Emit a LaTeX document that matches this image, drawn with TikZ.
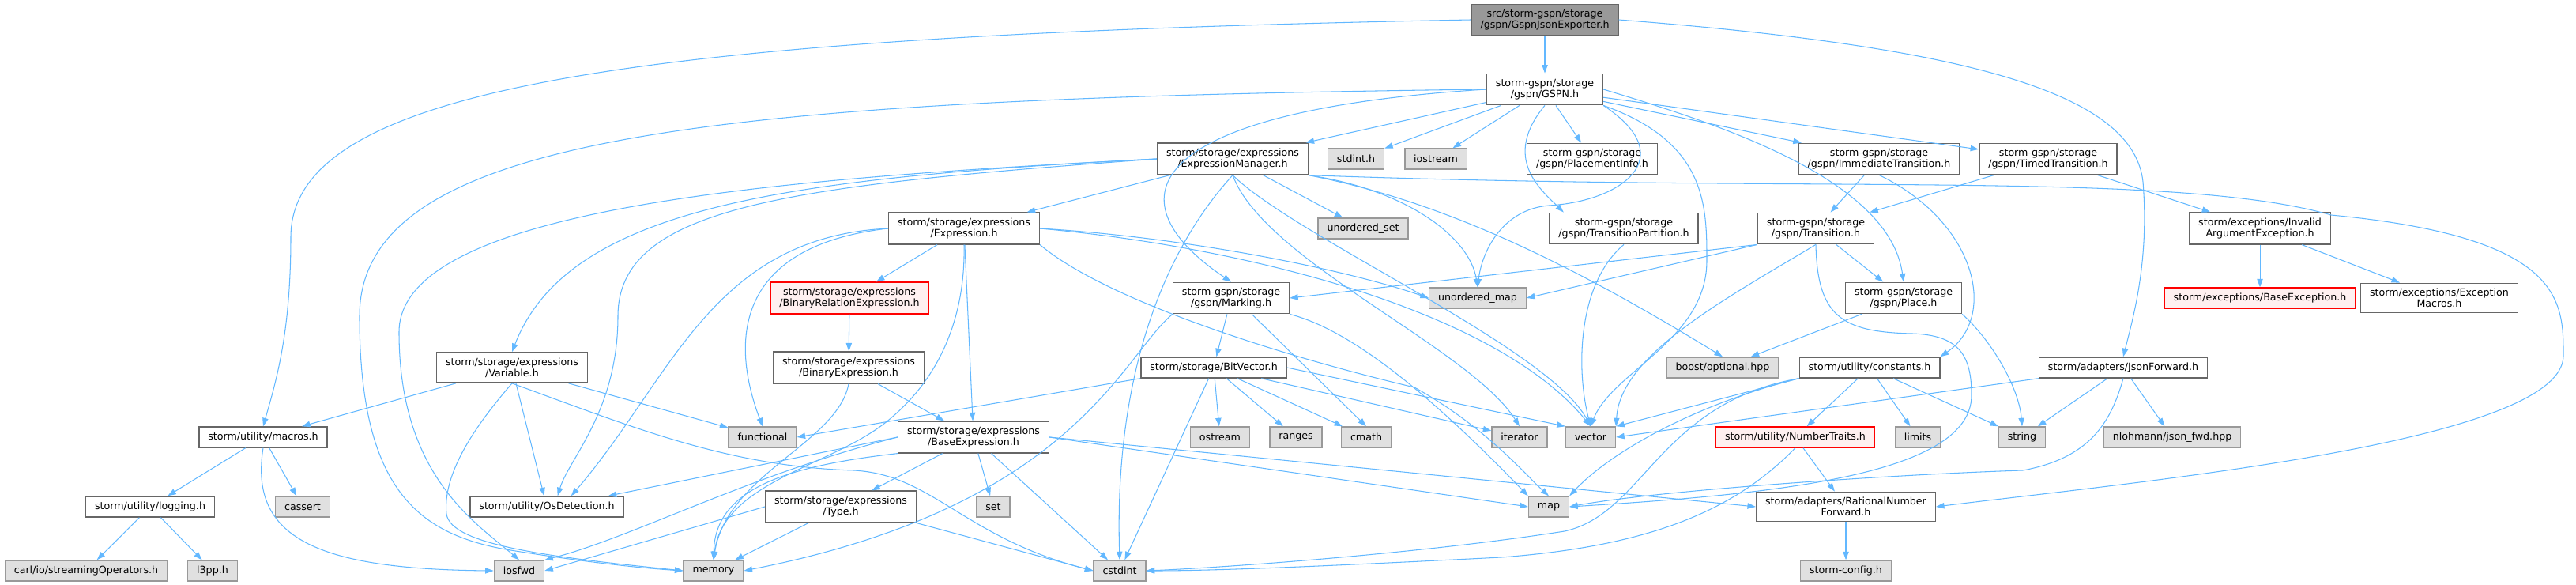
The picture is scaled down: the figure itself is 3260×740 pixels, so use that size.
\documentclass[tikz,border=0pt]{standalone}
\usepackage{fontspec}
\setmainfont{DejaVu Sans}
\usepackage{xcolor}
\usetikzlibrary{arrows.meta}
\definecolor{incblue}{HTML}{63B8FF}
\definecolor{incdraw}{HTML}{666666}
\definecolor{sysdraw}{HTML}{999999}
\definecolor{sysfill}{HTML}{E0E0E0}
\definecolor{curfill}{HTML}{999999}
\definecolor{badfill}{HTML}{FFF0F0}

\begin{document}
\begin{tikzpicture}[
    x=0.02cm, y=-0.02cm,
    inc/.style={draw=incdraw, line width=0.8pt, fill=white, align=center, inner xsep=6.5pt, inner ysep=3.8pt, minimum height=0.52cm, font=\fontsize{7.2}{8.1}\selectfont},
    sysinc/.style={inc, draw=sysdraw, fill=sysfill},
    curinc/.style={inc, fill=curfill},
    badinc/.style={inc, draw=red, fill=badfill},
    incline/.style={-{Triangle[length=6pt, width=4.2pt]}, line width=0.6pt, draw=incblue}
  ]
    \useasboundingbox (0,0) rectangle (3260,740);

    \node[curinc] (exporter) at (1955,25) {src/storm-gspn/storage\\/gspn/GspnJsonExporter.h};
    \node[inc] (gspn) at (1955,113) {storm-gspn/storage\\/gspn/GSPN.h};
    \node[inc] (exprmgr) at (1560,201) {storm/storage/expressions\\/ExpressionManager.h};
    \node[sysinc] (stdint) at (1716,201) {stdint.h};
    \node[sysinc] (iostream) at (1817,201) {iostream};
    \node[inc] (placement) at (2015,201) {storm-gspn/storage\\/gspn/PlacementInfo.h};
    \node[inc] (immtrans) at (2378,201) {storm-gspn/storage\\/gspn/ImmediateTransition.h};
    \node[inc] (timedtrans) at (2592,201) {storm-gspn/storage\\/gspn/TimedTransition.h};
    \node[inc] (expression) at (1220,289) {storm/storage/expressions\\/Expression.h};
    \node[sysinc] (unordset) at (1725,289) {unordered\_set};
    \node[inc] (transpart) at (2055,289) {storm-gspn/storage\\/gspn/TransitionPartition.h};
    \node[inc] (transition) at (2298,289) {storm-gspn/storage\\/gspn/Transition.h};
    \node[inc] (invalidarg) at (2860,289) {storm/exceptions/Invalid\\ArgumentException.h};
    \node[badinc] (binrel) at (1075,377) {storm/storage/expressions\\/BinaryRelationExpression.h};
    \node[inc] (marking) at (1558,377) {storm-gspn/storage\\/gspn/Marking.h};
    \node[sysinc] (unordmap) at (1870,377) {unordered\_map};
    \node[inc] (place) at (2409,377) {storm-gspn/storage\\/gspn/Place.h};
    \node[badinc] (baseexc) at (2860,377) {storm/exceptions/BaseException.h};
    \node[inc] (excmacros) at (3087,377) {storm/exceptions/Exception\\Macros.h};
    \node[inc] (variable) at (648,465) {storm/storage/expressions\\/Variable.h};
    \node[inc] (binexpr) at (1074,465) {storm/storage/expressions\\/BinaryExpression.h};
    \node[inc] (bitvector) at (1536,465) {storm/storage/BitVector.h};
    \node[sysinc] (optional) at (2180,465) {boost/optional.hpp};
    \node[inc] (constants) at (2366,465) {storm/utility/constants.h};
    \node[inc] (jsonfwd) at (2687,465) {storm/adapters/JsonForward.h};
    \node[inc] (macros) at (333,553) {storm/utility/macros.h};
    \node[sysinc] (functional) at (965,553) {functional};
    \node[inc] (baseexpr) at (1232,553) {storm/storage/expressions\\/BaseExpression.h};
    \node[sysinc] (ostream) at (1544,553) {ostream};
    \node[sysinc] (ranges) at (1640,553) {ranges};
    \node[sysinc] (cmath) at (1729,553) {cmath};
    \node[sysinc] (iterator) at (1923,553) {iterator};
    \node[sysinc] (vector) at (2013,553) {vector};
    \node[badinc] (numtraits) at (2272,553) {storm/utility/NumberTraits.h};
    \node[sysinc] (limits) at (2427,553) {limits};
    \node[sysinc] (string) at (2559,553) {string};
    \node[sysinc] (jsonfwdhpp) at (2749,553) {nlohmann/json\_fwd.hpp};
    \node[inc] (logging) at (190,641) {storm/utility/logging.h};
    \node[sysinc] (cassert) at (383,641) {cassert};
    \node[inc] (osdetect) at (692,641) {storm/utility/OsDetection.h};
    \node[inc] (typeh) at (1064,641) {storm/storage/expressions\\/Type.h};
    \node[sysinc] (set) at (1257,641) {set};
    \node[sysinc] (map) at (1960,641) {map};
    \node[inc] (rational) at (2336,641) {storm/adapters/RationalNumber\\Forward.h};
    \node[sysinc] (streamops) at (109,722) {carl/io/streamingOperators.h};
    \node[sysinc] (l3pp) at (269,722) {l3pp.h};
    \node[sysinc] (iosfwd) at (657,722) {iosfwd};
    \node[sysinc] (memory) at (903,722) {memory};
    \node[sysinc] (cstdint) at (1417,722) {cstdint};
    \node[sysinc] (stormconfig) at (2336,722) {storm-config.h};

    \draw[incline] (exporter) -- (gspn);
    \draw[incline] (exporter.west) .. controls (800,45) and (368,110) .. (368,300) .. controls (368,420) and (350,480) .. (macros.north);
    \draw[incline] (exporter.east) .. controls (2500,60) and (2700,120) .. (2712,230) .. controls (2720,330) and (2700,400) .. (jsonfwd.north);

    \draw[incline] (gspn) -- (exprmgr);
    \draw[incline] (gspn) -- (stdint);
    \draw[incline] (gspn) -- (iostream);
    \draw[incline] (gspn) -- (placement);
    \draw[incline] (gspn) -- (immtrans);
    \draw[incline] (gspn) -- (timedtrans);
    \draw[incline] (gspn.south) .. controls (1900,200) and (1950,240) .. (transpart.165);
    \draw[incline] (gspn.west) .. controls (1450,140) and (1400,250) .. (marking.north);
    \draw[incline] (gspn.south east) .. controls (2130,200) and (2050,255) .. (1960,260) .. controls (1900,265) and (1875,320) .. (unordmap.north);
    \draw[incline] (gspn.south east) .. controls (2160,180) and (2160,260) .. (2160,330) .. controls (2160,430) and (2040,470) .. (vector.north);
    \draw[incline] (gspn.east) .. controls (2150,150) and (2390,220) .. (place.north);
    \draw[incline] (gspn.west) .. controls (900,125) and (455,170) .. (455,400) .. controls (455,620) and (530,675) .. (640,695) .. controls (720,708) and (800,718) .. (memory.west);

    \draw[incline] (exprmgr) -- (expression);
    \draw[incline] (exprmgr) -- (unordset);
    \draw[incline] (exprmgr.west) .. controls (1000,225) and (720,260) .. (variable.north);
    \draw[incline] (exprmgr.west) .. controls (1000,235) and (782,260) .. (782,400) .. controls (782,520) and (720,580) .. (osdetect.45);
    \draw[incline] (exprmgr.west) .. controls (1000,225) and (505,260) .. (505,420) .. controls (505,600) and (600,660) .. (iosfwd.north);
    \draw[incline] (exprmgr.south) .. controls (1470,320) and (1410,480) .. (cstdint.north);
    \draw[incline] (exprmgr.south) .. controls (1600,330) and (1860,440) .. (iterator.north);
    \draw[incline] (exprmgr.south) .. controls (1640,300) and (1960,440) .. (vector.north);
    \draw[incline] (exprmgr.south east) .. controls (1780,240) and (1860,300) .. (unordmap.north);
    \draw[incline] (exprmgr.south east) .. controls (1800,250) and (1950,310) .. (optional.north);
    \draw[incline] (exprmgr.south east) .. controls (2300,245) and (2750,215) .. (2950,272) .. controls (3244,300) and (3244,380) .. (3244,450) .. controls (3244,560) and (2700,610) .. (rational.east);

    \draw[incline] (expression) -- (binrel);
    \draw[incline] (expression) -- (baseexpr);
    \draw[incline] (expression.east) .. controls (1500,300) and (1700,340) .. (unordmap.west);
    \draw[incline] (expression.east) .. controls (1600,315) and (1900,400) .. (vector.north);
    \draw[incline] (expression.south east) .. controls (1400,380) and (1620,450) .. (1790,490) .. controls (1880,540) and (1930,600) .. (map.north);
    \draw[incline] (expression.west) .. controls (940,310) and (920,420) .. (functional.north);
    \draw[incline] (expression.west) .. controls (900,300) and (850,480) .. (osdetect.24);
    \draw[incline] (expression.south) .. controls (1222,400) and (1190,480) .. (1120,535) .. controls (1050,590) and (915,610) .. (memory.north);

    \draw[incline] (binrel) -- (binexpr);
    \draw[incline] (binexpr) -- (baseexpr);
    \draw[incline] (binexpr.south) .. controls (1060,560) and (920,600) .. (memory.north);

    \draw[incline] (variable) -- (macros);
    \draw[incline] (variable) -- (functional);
    \draw[incline] (variable) -- (osdetect);
    \draw[incline] (variable.south) .. controls (600,540) and (560,600) .. (565,650) .. controls (570,690) and (700,705) .. (memory.west);
    \draw[incline] (variable.south) .. controls (800,540) and (920,590) .. (1080,595) .. controls (1180,600) and (1220,680) .. (cstdint.west);

    \draw[incline] (marking) -- (bitvector);
    \draw[incline] (marking.-38) -- (cmath.north);
    \draw[incline] (marking.south east) .. controls (1720,420) and (1830,520) .. (map.north west);
    \draw[incline] (marking.south west) .. controls (1420,450) and (1360,640) .. (memory.east);

    \draw[incline] (bitvector.south west) -- (functional.east);
    \draw[incline] (bitvector) -- (ostream);
    \draw[incline] (bitvector) -- (ranges);
    \draw[incline] (bitvector) -- (cmath);
    \draw[incline] (bitvector) -- (iterator);
    \draw[incline] (bitvector.east) -- (vector.north west);
    \draw[incline] (bitvector) -- (cstdint);

    \draw[incline] (baseexpr) -- (typeh);
    \draw[incline] (baseexpr) -- (set);
    \draw[incline] (baseexpr) -- (cstdint);
    \draw[incline] (baseexpr.east) -- (map.west);
    \draw[incline] (baseexpr.east) -- (rational.west);
    \draw[incline] (baseexpr.west) -- (osdetect.10);
    \draw[incline] (baseexpr.west) .. controls (950,600) and (800,680) .. (iosfwd.north east);
    \draw[incline] (baseexpr.south west) .. controls (990,590) and (905,620) .. (memory.north);

    \draw[incline] (typeh.west) -- (iosfwd.east);
    \draw[incline] (typeh) -- (memory);
    \draw[incline] (typeh.south east) -- (cstdint.west);

    \draw[incline] (macros) -- (logging);
    \draw[incline] (macros) -- (cassert);
    \draw[incline] (macros.south) .. controls (315,680) and (400,720) .. (iosfwd.west);
    \draw[incline] (logging) -- (streamops);
    \draw[incline] (logging) -- (l3pp);

    \draw[incline] (transition.south west) -- (marking.east);
    \draw[incline] (transition.south west) -- (unordmap.east);
    \draw[incline] (transition) -- (place);
    \draw[incline] (transition.south) .. controls (2180,380) and (2050,450) .. (vector.north east);
    \draw[incline] (transition.south) .. controls (2300,400) and (2330,420) .. (2420,422) .. controls (2480,424) and (2495,450) .. (2495,500) .. controls (2495,600) and (2250,625) .. (map.east);
    \draw[incline] (transpart.south) .. controls (1995,360) and (1995,470) .. (vector.north);

    \draw[incline] (immtrans) -- (transition);
    \draw[incline] (immtrans.south) .. controls (2500,280) and (2530,400) .. (constants.north east);
    \draw[incline] (timedtrans) -- (transition);
    \draw[incline] (timedtrans) -- (invalidarg);
    \draw[incline] (invalidarg) -- (baseexc);
    \draw[incline] (invalidarg) -- (excmacros);

    \draw[incline] (place) -- (optional);
    \draw[incline] (place.south east) .. controls (2520,430) and (2555,490) .. (string.north);

    \draw[incline] (constants.south west) -- (vector.north east);
    \draw[incline] (constants.south west) .. controls (2150,510) and (2040,570) .. (map.north east);
    \draw[incline] (constants.south west) .. controls (2100,510) and (2080,650) .. (1980,672) .. controls (1800,700) and (1550,718) .. (cstdint.east);
    \draw[incline] (constants) -- (numtraits);
    \draw[incline] (constants) -- (limits);
    \draw[incline] (constants) -- (string);

    \draw[incline] (numtraits) -- (rational);
    \draw[incline] (numtraits.south) .. controls (2200,640) and (2100,690) .. (1900,705) .. controls (1700,715) and (1550,722) .. (cstdint.east);
    \draw[incline] (rational) -- (stormconfig);

    \draw[incline] (jsonfwd.south west) -- (vector.east);
    \draw[incline] (jsonfwd) -- (string);
    \draw[incline] (jsonfwd) -- (jsonfwdhpp);
    \draw[incline] (jsonfwd.south) .. controls (2670,540) and (2640,580) .. (2560,595) .. controls (2400,600) and (2100,620) .. (map.east);
  \end{tikzpicture}
\end{document}
